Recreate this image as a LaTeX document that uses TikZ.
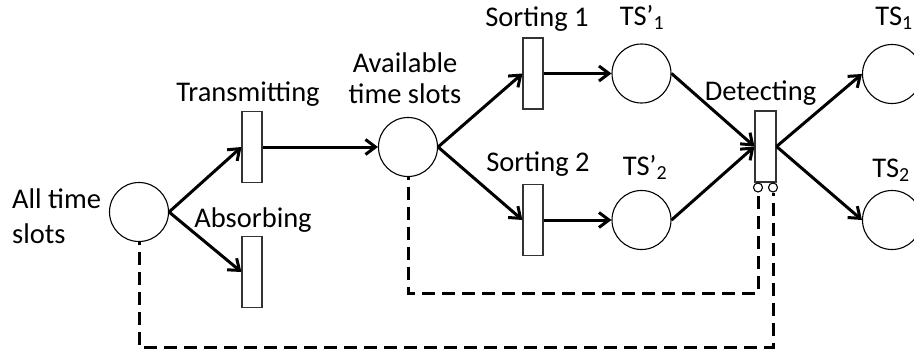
\documentclass[tikz,border=0pt]{standalone}
\usepackage{fontspec}
\setmainfont{Carlito}
\usetikzlibrary{arrows.meta}
\begin{document}
\begin{tikzpicture}[x=1pt,y=-1pt,
  place/.style={circle,draw,line width=1.1pt,minimum size=59pt,inner sep=0pt},
  trans/.style={rectangle,draw=black!80,line width=1.1pt,minimum width=20pt,minimum height=71pt,inner sep=0pt},
  inhib/.style={circle,draw,line width=1.1pt,minimum size=9pt,inner sep=0pt},
  lbl/.style={anchor=base,inner sep=0pt,font=\fontsize{28.5}{34}\selectfont},
  arc/.style={line width=3pt,-{Straight Barb[length=10pt,width=15pt,line width=3pt]}},
  inh/.style={line width=3pt,dash pattern=on 13pt off 7pt}]
\useasboundingbox (0,0) rectangle (914,356);

% places
\node[place] (p0) at (139,212) {};
\node[place] (p1) at (408,147) {};
\node[place] (p2) at (641.5,73.5) {};
\node[place] (p3) at (641.5,220) {};
\node[place] (p4) at (892,74) {};
\node[place] (p5) at (892,220) {};

% transitions
\node[trans] (t1) at (252,147) {};
\node[trans] (t2) at (252,272) {};
\node[trans] (t3) at (533,73.5) {};
\node[trans] (t4) at (533,220) {};
\node[trans,minimum width=21pt] (t5) at (765.5,146.5) {};

% inhibitor circles under the detecting transition
\node[inhib] (i1) at (758,187.5) {};
\node[inhib] (i2) at (773,187.5) {};

% labels
\node[lbl,anchor=base west] (l0a) at (12,208) {All time};
\node[lbl,anchor=base west] (l0b) at (12,243) {slots};
\node[lbl] (l1) at (248,101) {Transmitting};
\node[lbl] (l2) at (253,227) {Absorbing};
\node[lbl] (l3a) at (405,72) {Available};
\node[lbl] (l3b) at (405,103) {time slots};
\node[lbl] (l4) at (537,26) {Sorting 1};
\node[lbl] (l5) at (538,171.5) {Sorting 2};
\node[lbl] (l6) at (642,25) {TS’\textsubscript{1}};
\node[lbl] (l7) at (645,175) {TS’\textsubscript{2}};
\node[lbl] (l8) at (760.5,100) {Detecting};
\node[lbl] (l9) at (894,25) {TS\textsubscript{1}};
\node[lbl] (l10) at (891,177) {TS\textsubscript{2}};

% arcs
\draw[arc] (p0.east) -- (t1.west);
\draw[arc] (p0.east) -- (t2.west);
\draw[arc] (t1.east) -- (p1.west);
\draw[arc] (p1.east) -- (t3.west);
\draw[arc] (p1.east) -- (t4.west);
\draw[arc] (t3.east) -- (p2.west);
\draw[arc] (t4.east) -- (p3.west);
\draw[arc] (p2.east) -- (t5.west);
\draw[arc] (p3.east) -- (t5.west);
\draw[arc] (t5.east) -- (p4.west);
\draw[arc] (t5.east) -- (p5.west);

% inhibitor arcs
\coordinate (c0) at (139,347);
\coordinate (c1) at (408,293);
\draw[inh,dash phase=-10pt] (p0.south) -- (c0) -| (i2.south);
\draw[inh,dash phase=-10pt] (p1.south) -- (c1) -| (i1.south);
\end{tikzpicture}
\end{document}
